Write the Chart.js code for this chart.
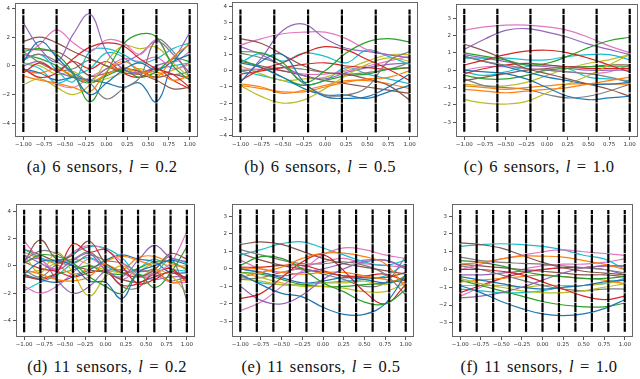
<!DOCTYPE html>
<html><head><meta charset="utf-8">
<script src="https://cdn.jsdelivr.net/npm/chart.js@4.4.1/dist/chart.umd.min.js"></script>
<style>
html,body{margin:0;padding:0;background:#fff;}
#wrap{position:relative;width:640px;height:379px;overflow:hidden;background:#fff;}
canvas{position:absolute;}
.cap{position:absolute;font-family:"Liberation Serif","DejaVu Serif",serif;font-size:16.5px;letter-spacing:0.4px;word-spacing:1.5px;color:#111;white-space:nowrap;transform:translate(-50%,-50%);}
</style></head><body>
<div id="wrap"></div>
<script>
// ---------- DATA ----------
const xFine = [-1,-0.8,-0.6,-0.4,-0.2,0,0.2,0.4,0.6,0.8,1];
const xCoarse = [-1,-0.75,-0.5,-0.25,0,0.25,0.5,0.75,1];
const xTickVals = [-1,-0.75,-0.5,-0.25,0,0.25,0.5,0.75,1];

const sensors6 = [-1,-0.6,-0.2,0.2,0.6,1];
const sensors11 = [-1,-0.8,-0.6,-0.4,-0.2,0,0.2,0.4,0.6,0.8,1];

const yTicksA = [-4,-2,0,2,4];
const yTicksB = [-4,-3,-2,-1,0,1,2,3,4];
const yTicksC = [-3,-2,-1,0,1,2,3];
const yTicksD = [-4,-2,0,2,4];
const yTicksE = [-3,-2,-1,0,1,2,3];
const yTicksF = [-3,-2,-1,0,1,2,3];

// series order: blue, orange, green, red, purple, brown, pink, gray, olive, cyan (two of each)
const seriesA = [
 [0.3,1.7,0.6,-0.6,-2.0,-1.2,-0.3,0.2,-0.3,0.3,0.8],
 [-0.7,-1.0,-1.2,-1.5,-1.8,-0.4,0.3,-0.3,-0.8,0.6,1.5],
 [1.0,1.2,0.8,-0.5,-2.5,-0.5,1.5,2.2,2.0,0.0,-1.0],
 [-0.2,-0.8,-0.5,0.5,1.3,1.6,1.4,0.5,-0.2,-0.6,-1.5],
 [3.0,1.2,0.3,2.2,3.6,1.0,-0.2,-0.5,0.0,0.5,2.3],
 [1.7,2.0,1.6,1.0,0.5,0.0,-0.5,-0.6,-1.0,-1.6,-1.5],
 [0.6,1.5,2.5,1.6,1.0,1.8,1.6,0.8,1.8,0.3,1.0],
 [0.5,0.8,0.3,-0.5,-1.2,-2.3,-1.6,-0.8,1.8,1.0,-0.8],
 [-1.3,-0.9,-1.5,-2.0,-1.3,0.3,1.4,1.2,1.3,0.2,-0.8],
 [0.4,0.8,-0.3,-1.1,1.0,1.2,0.8,0.2,0.5,1.2,1.6],
 [-0.2,-0.5,-1.0,-0.8,-1.0,-1.2,-1.5,-1.2,-2.5,0.2,1.6],
 [-0.3,-0.5,-0.2,-0.7,-1.1,-0.6,-0.1,-0.5,-0.4,-1.0,-0.7],
 [0.8,0.5,0.0,-0.8,-1.2,-0.7,-0.3,-0.8,-0.4,0.5,0.3],
 [-0.5,0.2,-0.3,0.3,-0.2,0.3,-0.5,-0.8,-0.2,-1.0,-1.6],
 [0.0,0.3,-0.4,-0.8,-1.0,-0.2,0.2,0.8,1.7,0.8,-0.5],
 [1.2,1.1,1.0,0.3,-0.7,-0.5,-0.2,-0.4,-0.8,-0.6,-0.9],
 [-0.2,-0.9,-1.3,-1.5,-0.8,-0.2,0.5,0.3,0.6,-0.2,0.2],
 [1.0,0.2,-0.3,-0.2,0.4,0.0,-0.3,-0.5,-0.2,-0.6,-0.4],
 [0.2,0.0,-0.6,-0.4,-1.1,-0.9,-0.5,-0.2,-0.6,-0.3,0.1],
 [0.2,-0.2,-1.2,-0.7,-0.2,0.9,0.6,-0.4,-0.2,0.0,0.2]
];
const seriesB = [
 [-0.7,0.6,1.0,-0.7,-1.6,-1.7,-1.6,-1.0,-0.2],
 [-0.9,-1.1,-1.3,-1.3,-1.0,-0.7,-0.5,-0.4,0.0],
 [1.2,1.1,0.5,-0.7,0.0,1.1,1.8,2.0,1.8],
 [-0.6,0.1,0.5,1.1,1.5,1.3,0.7,0.1,-0.6],
 [-0.7,0.8,2.5,2.9,2.0,1.4,1.2,1.0,0.8],
 [2.0,1.7,1.0,0.3,-0.1,-0.2,-0.5,-0.9,-1.8],
 [1.6,2.0,2.3,2.4,2.4,2.0,1.3,1.0,0.8],
 [1.1,0.8,0.3,-0.8,-1.5,-1.5,-1.0,0.6,1.2],
 [-0.9,-1.6,-2.0,-1.8,-1.1,-0.3,0.4,0.8,0.6],
 [0.5,1.1,0.6,1.1,0.9,0.5,1.3,0.9,0.4],
 [0.5,0.2,-0.4,-1.1,-1.5,-1.5,-1.7,-1.3,-0.9],
 [-0.8,-1.0,-1.4,-1.2,-0.9,-0.6,-0.6,-0.8,-1.1],
 [0.7,0.2,-0.4,-0.9,-0.6,-0.3,-0.2,0.1,0.2],
 [-0.2,0.0,0.2,0.4,0.5,0.3,0.2,0.1,0.2],
 [1.5,1.0,0.3,-0.3,-0.5,-0.1,0.2,0.4,0.5],
 [0.6,0.3,0.0,-0.3,-0.6,-0.8,-1.0,-1.2,-1.4],
 [0.1,0.1,0.0,-0.2,-0.2,0.0,0.3,0.6,0.9],
 [0.0,0.1,0.2,0.1,-0.1,-0.2,-0.1,0.1,0.5],
 [0.3,-0.2,-0.6,-0.5,-0.4,0.1,0.6,1.0,1.0],
 [0.0,-0.3,-0.6,-0.9,-0.6,0.2,-0.2,-0.5,-0.8]
];
const seriesC = [
 [0.0,-0.1,-0.2,-0.5,-1.0,-1.5,-1.7,-1.6,-1.5],
 [-1.1,-1.2,-1.3,-1.2,-1.1,-1.0,-0.8,-0.6,-0.4],
 [1.0,0.8,0.6,0.3,0.4,0.8,1.3,1.7,1.9],
 [0.3,0.6,0.9,1.1,1.15,1.0,0.7,0.3,-0.1],
 [1.2,1.8,2.3,2.4,2.2,1.9,1.5,1.2,0.9],
 [1.5,1.1,0.6,0.1,-0.2,-0.5,-0.8,-1.1,-1.5],
 [2.3,2.5,2.6,2.6,2.5,2.3,1.9,1.4,1.0],
 [0.8,0.5,0.3,0.1,0.0,-0.1,-0.2,-0.4,-0.7],
 [-1.7,-1.9,-1.95,-1.8,-1.3,-0.8,-0.3,0.3,0.9],
 [0.7,0.7,0.7,0.6,0.6,0.8,0.9,0.9,0.6],
 [0.8,0.5,0.2,-0.1,-0.4,-0.6,-0.8,-0.8,-0.7],
 [-0.9,-1.0,-1.1,-1.0,-0.9,-0.8,-0.8,-0.8,-0.8],
 [-0.3,-0.5,-0.5,-0.3,0.0,0.1,0.2,0.2,0.2],
 [-0.2,0.1,0.3,0.4,0.3,0.2,0.1,0.1,0.1],
 [0.9,0.7,0.5,0.3,0.2,0.1,0.0,0.0,0.0],
 [-0.6,-0.4,-0.2,0.0,0.1,0.2,0.2,0.3,0.3],
 [0.0,0.2,0.2,0.1,0.0,-0.1,-0.2,-0.1,0.3],
 [-0.5,-0.9,-1.0,-1.1,-1.4,-1.6,-1.5,-1.2,-0.8],
 [-0.8,-0.9,-0.9,-0.7,-0.3,0.1,0.4,0.6,0.9],
 [-0.1,-0.3,-0.1,0.2,0.3,0.1,-0.4,-0.5,-0.6]
];
const seriesD = [
 [-0.6,0.3,0.4,0.0,-1.1,-1.2,-2.4,-0.5,0.0,0.4,0.1],
 [-0.3,-0.6,-1.0,-1.1,-0.8,0.3,0.7,0.4,-0.1,-1.2,-1.0],
 [0.2,0.8,0.7,0.2,-0.8,-1.5,-2.0,-0.6,-1.6,-0.5,1.4],
 [-0.7,-1.0,-0.5,1.6,1.0,1.2,0.0,-1.3,-1.0,-0.4,-0.9],
 [0.8,0.2,-0.3,0.4,0.9,-0.3,-0.8,0.4,1.5,0.6,0.3],
 [0.3,1.9,0.5,0.8,1.8,0.2,-0.5,-0.8,-0.3,0.9,0.5],
 [1.8,0.5,-0.2,1.0,1.5,1.2,0.3,-0.8,-0.5,0.2,2.5],
 [0.4,1.1,0.9,0.2,0.8,0.4,0.2,-0.4,-0.2,0.6,-2.5],
 [0.8,-0.5,1.0,-0.5,-2.2,-0.8,0.0,-0.8,-0.3,-0.7,-2.0],
 [1.2,0.6,0.3,0.9,1.4,1.3,0.6,-0.6,-0.5,0.5,0.2],
 [-0.6,-1.0,-1.2,-0.8,-0.3,0.4,0.8,0.5,0.3,-0.5,-0.5],
 [1.0,0.5,0.1,-0.6,-0.2,0.1,-0.3,0.6,0.7,0.2,-0.2],
 [-0.8,-0.9,-0.6,-0.3,0.0,-0.5,-0.6,-0.2,0.3,0.3,-0.3],
 [0.3,-0.2,-0.4,-0.8,-0.5,-0.4,-1.4,-1.3,-0.6,-0.2,-1.2],
 [0.3,0.5,-1.0,-2.0,-1.5,-0.4,-0.3,-0.7,-1.0,-0.8,-0.8],
 [1.2,0.8,0.3,0.0,-0.3,-0.5,-1.0,-1.2,-0.8,-0.5,-1.0],
 [-1.5,-2.0,-1.5,-0.5,0.5,-0.2,-1.0,-0.3,-0.6,-1.2,-1.2],
 [-0.3,-0.8,0.1,0.5,1.0,-0.1,-1.5,-1.6,-0.5,-1.1,-0.8],
 [-0.5,-0.3,0.2,0.5,0.1,-0.3,-0.5,-0.4,0.2,0.0,0.0],
 [-1.8,-1.2,-0.7,0.2,0.6,0.0,-0.5,-0.2,0.5,-0.2,-0.4]
];
const seriesE = [
 [-0.3,-0.9,-1.4,-1.6,-2.2,-2.6,-2.6,-2.0,-0.3],
 [-0.5,-0.2,0.1,0.6,0.9,0.9,0.7,0.3,-1.1],
 [0.2,0.7,0.6,0.0,-0.8,-1.3,-1.9,-2.0,-1.2],
 [-1.7,-1.4,-0.5,0.4,0.8,-0.1,-1.3,-2.0,-0.9],
 [-1.0,-1.8,-2.0,-1.5,-0.6,0.0,0.4,0.5,0.0],
 [1.4,1.55,1.4,1.0,0.6,0.3,0.1,-0.1,-0.3],
 [-2.4,-1.9,-1.0,-0.1,0.8,1.2,1.1,0.8,0.6],
 [1.1,0.8,0.5,0.3,0.3,0.4,0.2,-0.3,-1.5],
 [-0.2,-0.5,-0.8,-1.0,-1.0,-1.1,-1.3,-1.3,-0.8],
 [0.8,1.1,1.45,1.55,1.2,0.8,0.4,0.2,0.5],
 [0.0,-0.2,-0.5,-0.8,-0.7,-0.5,-0.6,-0.8,-0.6],
 [0.0,0.0,-0.2,-0.3,-0.2,-0.2,-0.4,-0.6,-0.8],
 [-0.2,-0.3,-0.6,-0.9,-1.0,-1.0,-0.9,-0.8,-0.5],
 [0.1,0.1,0.2,0.2,-0.1,-0.4,-0.4,-0.3,-0.7],
 [0.0,-0.2,-0.4,-0.2,0.0,0.3,0.5,0.5,0.1],
 [0.9,0.5,0.2,0.0,-0.2,-0.4,-0.5,-0.5,-0.2],
 [0.5,0.0,-0.2,0.1,0.4,0.6,0.3,0.2,0.1],
 [-0.6,-0.5,-0.2,0.0,-0.3,-0.6,-1.0,-0.8,0.7],
 [-0.6,-0.7,-0.9,-0.9,-0.8,-0.8,-0.7,-0.9,-0.4],
 [-0.4,-0.8,-0.9,-0.9,-0.8,-0.7,-0.6,-0.4,0.3]
];
const seriesF = [
 [-0.9,-1.3,-1.8,-2.2,-2.5,-2.6,-2.5,-2.2,-1.7],
 [0.3,0.4,0.6,0.75,0.75,0.7,0.5,0.3,0.0],
 [0.5,0.4,0.2,-0.1,-0.3,-0.4,-0.5,-0.5,-0.4],
 [0.0,0.0,-0.1,-0.3,-0.7,-1.1,-1.5,-1.7,-1.5],
 [-1.6,-1.5,-1.3,-1.0,-0.6,-0.2,0.1,0.2,0.2],
 [1.5,1.4,1.2,0.8,0.4,0.1,-0.1,-0.2,-0.3],
 [0.0,0.3,0.6,0.8,1.0,1.1,1.0,0.9,0.8],
 [0.7,0.5,0.4,0.35,0.3,0.2,0.1,0.0,-0.2],
 [-0.5,-0.8,-1.0,-1.2,-1.3,-1.3,-1.2,-1.0,-0.8],
 [1.3,1.4,1.45,1.4,1.3,1.1,0.8,0.6,0.0],
 [-0.4,-0.6,-0.8,-1.0,-1.1,-1.0,-0.9,-0.7,-0.6],
 [-0.7,-0.6,-0.5,-0.4,-0.3,-0.4,-0.5,-0.6,-0.8],
 [-0.6,-0.9,-1.2,-1.5,-1.8,-2.0,-2.1,-2.1,-1.9],
 [-1.3,-0.9,-0.5,-0.2,0.0,0.1,0.1,0.2,0.2],
 [-0.3,-0.3,-0.2,-0.1,0.0,0.1,0.1,0.0,-0.3],
 [0.3,0.2,0.1,0.0,-0.1,-0.2,-0.3,-0.3,-0.4],
 [-1.5,-1.0,-0.5,0.0,0.2,0.3,0.3,0.4,0.6],
 [0.2,0.0,-0.3,-0.6,-0.9,-1.1,-1.2,-1.1,-1.1],
 [-0.9,-0.9,-0.9,-1.0,-0.9,-0.9,-0.9,-0.8,-0.6],
 [-1.1,-1.2,-1.3,-1.3,-1.2,-1.0,-0.9,-0.8,-0.5]
];

// sensor line vertical extents [low, high]
const sensorSpanA = [-4.6, 3.95];
const sensorSpanB = [-3.8, 3.8];
const sensorSpanC = [-3.55, 3.55];
const sensorSpanD = [-4.85, 4.1];
const sensorSpanE = [-3.6, 3.4];
const sensorSpanF = [-3.5, 3.35];

const captions = ["(a) 6 sensors, ", "(b) 6 sensors, ", "(c) 6 sensors, ", "(d) 11 sensors, ", "(e) 11 sensors, ", "(f) 11 sensors, "];
const lengthScales = ["0.2","0.5","1.0","0.2","0.5","1.0"];

// ---------- STYLE ----------
const palette = ['#1f77b4','#ff7f0e','#2ca02c','#d62728','#9467bd','#8c564b','#e377c2','#7f7f7f','#bcbd22','#17becf'];

const panels = [
 {xs:xFine,   series:seriesA, sensors:sensors6,  span:sensorSpanA, yTicks:yTicksA, yMin:-4.95, yMax:4.35, box:{l:15,t:1,r:198,b:137},   cap:{x:102,y:167}},
 {xs:xCoarse, series:seriesB, sensors:sensors6,  span:sensorSpanB, yTicks:yTicksB, yMin:-4.1,  yMax:4.25, box:{l:232,t:0,r:418,b:137},  cap:{x:320,y:167}},
 {xs:xCoarse, series:seriesC, sensors:sensors6,  span:sensorSpanC, yTicks:yTicksC, yMin:-3.85, yMax:3.8,  box:{l:456,t:2,r:638,b:137},  cap:{x:539,y:167}},
 {xs:xFine,   series:seriesD, sensors:sensors11, span:sensorSpanD, yTicks:yTicksD, yMin:-5.2,  yMax:4.5,  box:{l:16,t:202,r:195,b:337}, cap:{x:107,y:367}},
 {xs:xCoarse, series:seriesE, sensors:sensors11, span:sensorSpanE, yTicks:yTicksE, yMin:-3.9,  yMax:3.7,  box:{l:232,t:202,r:414,b:337},cap:{x:321,y:367}},
 {xs:xCoarse, series:seriesF, sensors:sensors11, span:sensorSpanF, yTicks:yTicksF, yMin:-3.8,  yMax:3.67, box:{l:452,t:202,r:633,b:337},cap:{x:539,y:367}}
];

const frame = {
  id:'frame',
  afterDraw(chart){
    const a = chart.chartArea, c = chart.ctx;
    c.save(); c.strokeStyle = '#666'; c.lineWidth = 1;
    c.strokeRect(Math.round(a.left)+0.5, Math.round(a.top)+0.5, Math.round(a.right-a.left)-1, Math.round(a.bottom-a.top)-1);
    c.restore();
  }
};

const wrap = document.getElementById('wrap');
const YW = 20, XH = 16, PT = 3, PR = 3;
const fmtMinus = s => s.replace('-', '\u2212');

panels.forEach((p, idx) => {
  const cv = document.createElement('canvas');
  const w = p.box.r - p.box.l + YW + PR;
  const h = p.box.b - p.box.t + PT + XH;
  cv.width = w; cv.height = h;
  cv.style.left = (p.box.l - YW) + 'px';
  cv.style.top = (p.box.t - PT) + 'px';
  cv.style.width = w + 'px'; cv.style.height = h + 'px';
  wrap.appendChild(cv);

  const datasets = [];
  p.sensors.forEach(s => {
    datasets.push({data:[{x:s,y:p.span[0]},{x:s,y:p.span[1]}], borderColor:'#000', borderWidth:2.2, borderDash:[9,0.8], pointRadius:0, tension:0, fill:false});
  });
  p.series.forEach((ys, i) => {
    datasets.push({data:p.xs.map((x,j)=>({x:x,y:ys[j]})), borderColor:palette[i%10], borderWidth:1.2, pointRadius:0, tension:0.4, fill:false});
  });

  const tickFont = {family:'DejaVu Sans', size:5.5};
  new Chart(cv, {
    type:'line',
    data:{datasets},
    options:{
      responsive:false, animation:false, devicePixelRatio:1,
      layout:{padding:{left:0,top:PT,right:PR,bottom:0}},
      plugins:{legend:{display:false}, tooltip:{enabled:false}},
      scales:{
        x:{type:'linear', min:-1.1, max:1.1,
           afterBuildTicks:s=>{s.ticks = xTickVals.map(v=>({value:v}));},
           afterFit:s=>{s.height = XH;},
           ticks:{font:tickFont, color:'#333', padding:1, maxRotation:0, autoSkip:false, callback:v=>fmtMinus(v.toFixed(2))},
           grid:{display:true, drawOnChartArea:false, drawTicks:true, tickLength:3, color:'#555'},
           border:{display:false}},
        y:{type:'linear', min:p.yMin, max:p.yMax,
           afterBuildTicks:s=>{s.ticks = p.yTicks.map(v=>({value:v}));},
           afterFit:s=>{s.width = YW;},
           ticks:{font:tickFont, color:'#333', padding:2, autoSkip:false, callback:v=>fmtMinus(String(v))},
           grid:{display:true, drawOnChartArea:false, drawTicks:true, tickLength:3, color:'#555'},
           border:{display:false}}
      }
    },
    plugins:[frame]
  });

  const cap = document.createElement('div');
  cap.className = 'cap';
  cap.style.left = p.cap.x + 'px';
  cap.style.top = p.cap.y + 'px';
  cap.innerHTML = captions[idx] + '<i>l</i> = ' + lengthScales[idx];
  wrap.appendChild(cap);
});
</script>
</body></html>
